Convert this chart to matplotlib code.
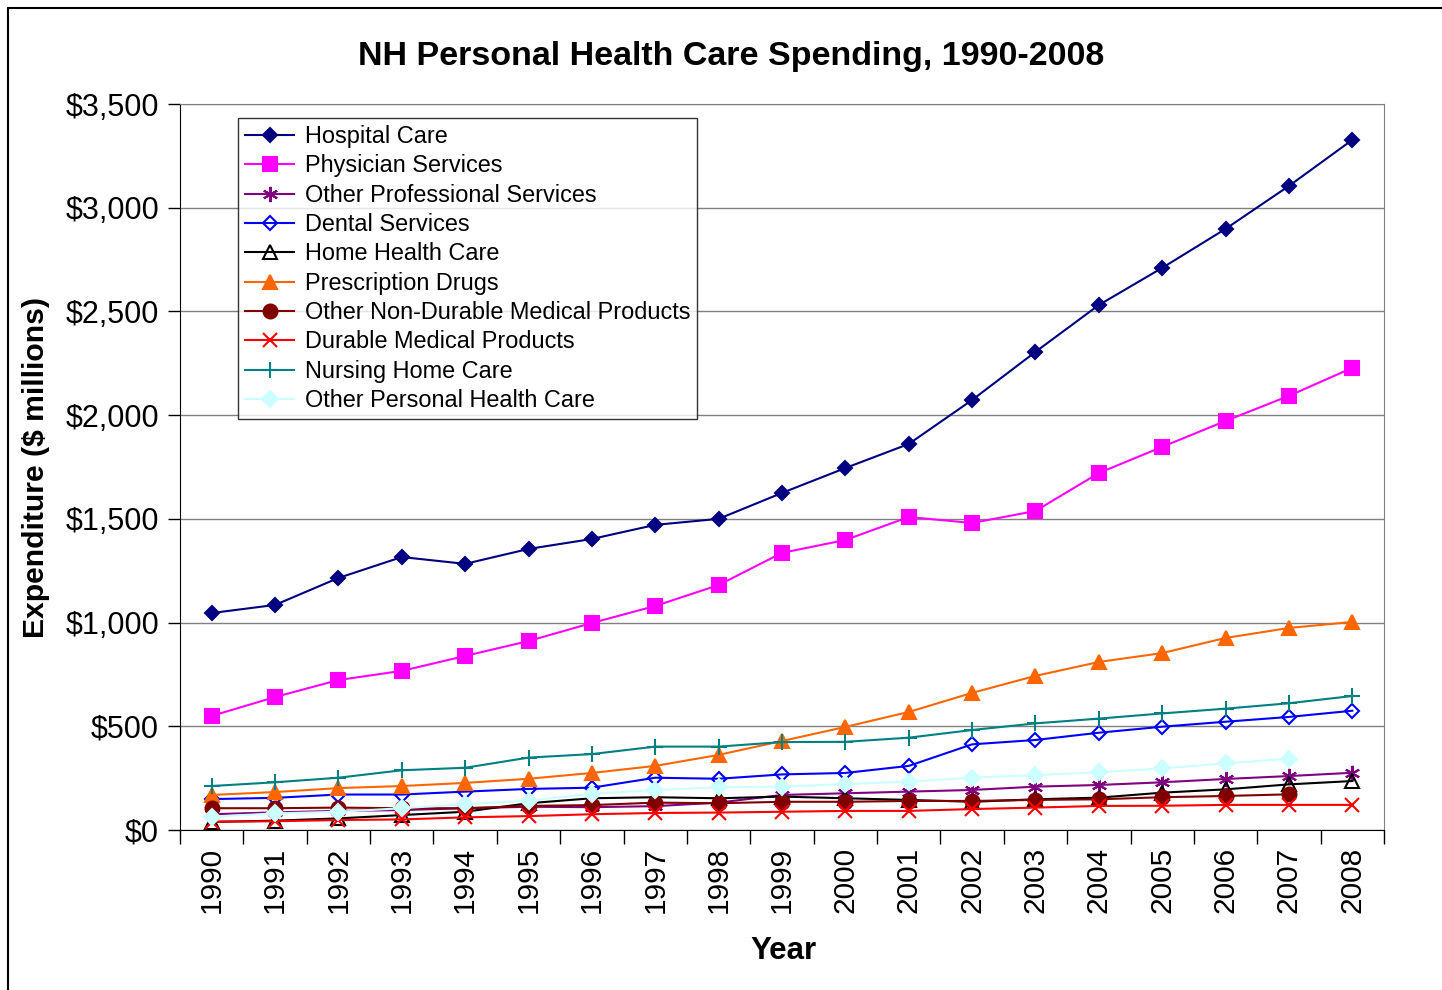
import matplotlib
matplotlib.use("Agg")
import matplotlib.pyplot as plt
from matplotlib.patches import Rectangle
from matplotlib.ticker import FuncFormatter, MultipleLocator
import numpy as np

plt.rcParams["font.family"] = ["Liberation Sans", "DejaVu Sans"]

# ── Data ($ millions) ────────────────────────────────────────────────────────
years = list(range(1990, 2009))

hospital = [1046, 1085, 1215, 1316, 1283, 1355, 1403, 1471, 1500, 1625,
            1745, 1861, 2073, 2305, 2531, 2710, 2898, 3105, 3327]
physician = [550, 641, 723, 767, 839, 911, 998, 1080, 1181, 1336,
             1398, 1509, 1480, 1538, 1721, 1847, 1972, 2093, 2228]
other_prof = [76, 85, 92, 96, 105, 112, 110, 115, 132, 169,
              177, 185, 193, 209, 217, 230, 246, 260, 276]
dental = [149, 155, 171, 171, 185, 198, 204, 252, 247, 268,
          275, 309, 413, 434, 469, 498, 522, 545, 575]
home_health = [39, 45, 56, 72, 88, 129, 153, 158, 153, 161,
               153, 145, 136, 148, 156, 180, 196, 220, 236]
rx_drugs = [169, 183, 202, 212, 227, 247, 275, 309, 362, 429,
            497, 569, 661, 743, 810, 853, 926, 974, 1003]
other_nondurable = [105, 105, 108, 105, 105, 116, 120, 132, 129, 136,
                    136, 140, 140, 145, 148, 158, 164, 172, None]
durable = [40, 42, 48, 51, 61, 67, 76, 82, 84, 88,
           92, 92, 101, 108, 116, 117, 121, 121, 121]
nursing = [212, 230, 252, 288, 300, 349, 366, 402, 402, 424,
           425, 445, 482, 514, 537, 562, 585, 611, 646]
other_personal = [64, 80, 88, 105, 124, 141, 174, 193, 206, 209,
                  222, 233, 252, 265, 278, 297, 321, 344, None]

series = [
    ("Hospital Care", hospital, "#000080", "D", 7, "#000080"),
    ("Physician Services", physician, "#FF00FF", "s", 10, "#FF00FF"),
    ("Other Professional Services", other_prof, "#800080", "*", 0, "#800080"),
    ("Dental Services", dental, "#0000FF", "D", 7, "none"),
    ("Home Health Care", home_health, "#000000", "^", 10, "none"),
    ("Prescription Drugs", rx_drugs, "#FF6600", "^", 10, "#FF6600"),
    ("Other Non-Durable Medical Products", other_nondurable, "#800000", "o", 10, "#800000"),
    ("Durable Medical Products", durable, "#FF0000", "x", 10, "none"),
    ("Nursing Home Care", nursing, "#008080", "+", 12, "none"),
    ("Other Personal Health Care", other_personal, "#CCFFFF", "D", 8, "#CCFFFF"),
]

# ── Figure ───────────────────────────────────────────────────────────────────
fig = plt.figure(figsize=(14.42, 9.90), dpi=100)
ax = fig.add_axes([180 / 1442, 1 - 830 / 990, (1384 - 180) / 1442, (830 - 104) / 990])

x = np.arange(len(years))
for label, vals, color, marker, ms, mfc in series:
    y = np.array([np.nan if v is None else v for v in vals], dtype=float)
    kw = dict(color=color, lw=1.5, marker=marker, label=label, clip_on=False)
    if marker == "*":
        kw.update(marker=(6, 2, 0), ms=11, mew=1.5)
    elif marker in ("x", "+"):
        kw.update(ms=ms, mew=1.5)
    else:
        kw.update(ms=ms, mfc=mfc, mec=color, mew=1.5)
    ax.plot(x, y, **kw)

ax.set_xlim(-0.5, len(years) - 0.5)
ax.set_ylim(0, 3500)
ax.yaxis.set_major_locator(MultipleLocator(500))
ax.yaxis.set_major_formatter(FuncFormatter(lambda v, _: f"${v:,.0f}"))
ax.tick_params(axis="y", labelsize=22, direction="out", length=9, width=1, pad=6)

ax.set_xticks(x)
ax.set_xticklabels([str(yy) for yy in years], rotation=90, fontsize=21.5)
ax.set_xticks(np.arange(-0.5, len(years)), minor=True)
ax.tick_params(axis="x", which="major", length=0, pad=12)
ax.tick_params(axis="x", which="minor", length=10, width=1, direction="out")

ax.grid(axis="y", color="#808080", lw=1)
ax.set_axisbelow(True)
for side in ("top", "right"):
    ax.spines[side].set_color("#808080")
for side in ("left", "bottom"):
    ax.spines[side].set_color("black")

leg = ax.legend(loc="upper left", bbox_to_anchor=(238 / 1442, 1 - 118 / 990),
                bbox_transform=fig.transFigure, borderaxespad=0, fontsize=16.9,
                frameon=True, fancybox=False, handlelength=2.1, handletextpad=0.45,
                labelspacing=0.27, borderpad=0.3, markerscale=1.0)
leg.get_frame().set_edgecolor("black")
leg.get_frame().set_linewidth(1)

fig.text(731 / 1442, 1 - 57 / 990, "NH Personal Health Care Spending, 1990-2008",
         ha="center", va="center", fontsize=24.5, fontweight="bold")
fig.text(36 / 1442, 1 - 467 / 990, "Expenditure ($ millions)", rotation=90,
         ha="center", va="center", fontsize=21.7, fontweight="bold")
fig.text(783 / 1442, 1 - 951 / 990, "Year", ha="center", va="center",
         fontsize=22.5, fontweight="bold")

# outer chart frame
fig.patches.append(Rectangle((8 / 1442, -0.05), 1.2, 1 - 8 / 990 + 0.05,
                             transform=fig.transFigure, fill=False,
                             edgecolor="black", lw=1.5))

fig.savefig("out.png", dpi=100)
